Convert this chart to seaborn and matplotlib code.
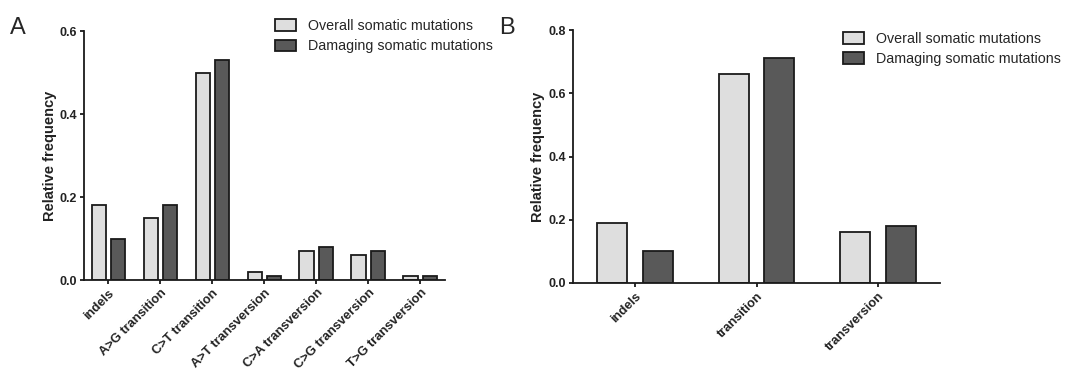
import matplotlib
matplotlib.use("Agg")
import matplotlib.pyplot as plt
import matplotlib.transforms as mtransforms
import seaborn as sns
import pandas as pd

sns.set_theme(style="ticks")
plt.rcParams['font.family'] = ['Liberation Sans', 'DejaVu Sans']

# Panel A data
cats_a = ["indels", "A>G transition", "C>T transition", "A>T transversion",
          "C>A transversion", "C>G transversion", "T>G transversion"]
overall_a = [0.18, 0.15, 0.50, 0.02, 0.07, 0.06, 0.01]
damaging_a = [0.10, 0.18, 0.53, 0.01, 0.08, 0.07, 0.01]

# Panel B data
cats_b = ["indels", "transition", "transversion"]
overall_b = [0.19, 0.66, 0.16]
damaging_b = [0.10, 0.71, 0.18]

series_names = ["Overall somatic mutations", "Damaging somatic mutations"]
yticks_a = [0.0, 0.2, 0.4, 0.6]
yticks_b = [0.0, 0.2, 0.4, 0.6, 0.8]

palette = {series_names[0]: "#dedede", series_names[1]: "#595959"}


def long_df(cats, s1, s2):
    return pd.DataFrame({
        "category": cats + cats,
        "value": s1 + s2,
        "series": [series_names[0]] * len(cats) + [series_names[1]] * len(cats),
    })


fig = plt.figure(figsize=(10.82, 3.8), dpi=100)
axA = fig.add_axes([0.0776, 0.263, 0.3334, 0.655])
axB = fig.add_axes([0.5296, 0.2553, 0.3392, 0.6657])


def draw(ax, cats, s1, s2, yticks, legend_anchor, gap, xpad):
    df = long_df(cats, s1, s2)
    sns.barplot(data=df, x="category", y="value", hue="series", order=cats,
                hue_order=series_names, palette=palette, width=0.748, gap=gap,
                edgecolor="#1a1a1a", linewidth=1.3, ax=ax, legend=True)
    ax.set_ylim(0, yticks[-1])
    ax.set_xlim(-xpad, len(cats) - 1 + xpad)
    ax.set_yticks(yticks)
    ax.set_yticklabels([f"{t:.1f}" for t in yticks], fontsize=9, fontweight="bold",
                       color="#222222")
    ax.set_xticks(range(len(cats)))
    ax.set_xticklabels(cats, rotation=45, ha="right", rotation_mode="anchor",
                       fontsize=9.3, fontweight="bold", color="#222222")
    offset = mtransforms.ScaledTranslation(5 / 100, -4 / 100, fig.dpi_scale_trans)
    for lbl in ax.get_xticklabels():
        lbl.set_transform(lbl.get_transform() + offset)
    ax.set_xlabel("")
    ax.set_ylabel("Relative frequency", fontsize=10.5, fontweight="bold",
                  color="#222222")
    for s in ["top", "right"]:
        ax.spines[s].set_visible(False)
    for s in ["left", "bottom"]:
        ax.spines[s].set_linewidth(1.3)
        ax.spines[s].set_color("#1a1a1a")
    ax.tick_params(axis="both", width=1.3, length=3, color="#1a1a1a", pad=2)
    handles, labels = ax.get_legend_handles_labels()
    ax.legend(handles, labels, loc="upper left", bbox_to_anchor=legend_anchor,
              bbox_transform=fig.transFigure, frameon=False, fontsize=10.3,
              handlelength=1.5, handleheight=0.9, labelspacing=0.45,
              handletextpad=0.8, borderpad=0, borderaxespad=0)


draw(axA, cats_a, overall_a, damaging_a, yticks_a, (0.254, 0.95), 0.27, 0.47)
draw(axB, cats_b, overall_b, damaging_b, yticks_b, (0.779, 0.917), 0.34, 0.51)

axA.yaxis.set_label_coords(-0.076, 0.5)
axB.yaxis.set_label_coords(-0.076, 0.5)

fig.text(0.009, 0.955, "A", fontsize=17, va="top", ha="left")
fig.text(0.461, 0.955, "B", fontsize=17, va="top", ha="left")

fig.savefig("out.png", dpi=100, facecolor="white")
